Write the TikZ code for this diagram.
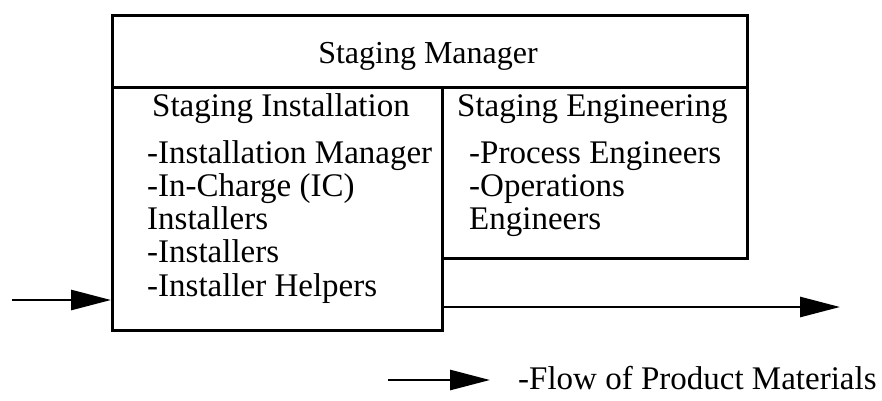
\documentclass[tikz,border=0pt]{standalone}
\usepackage{fontspec}
\setmainfont{Liberation Serif}
\usetikzlibrary{arrows.meta}
\tikzset{
  box/.style={draw, line width=2.8pt, anchor=north west, inner sep=0pt},
  label/.style={inner sep=0pt, font=\fontsize{33}{36}\selectfont},
  title/.style={inner sep=0pt, font=\fontsize{32}{36}\selectfont},
  flow/.style={line width=2.8pt, -{Triangle[length=40pt,width=20pt]}},
}
\begin{document}
\begin{tikzpicture}[x=1pt, y=-1pt]
\useasboundingbox (0,0) rectangle (882,400);

% organisation boxes
\node[box, minimum width=635pt, minimum height=72pt] (mgr) at (111,14) {};
\node[box, minimum width=330pt, minimum height=243pt] (inst) at (111,86) {};
\node[box, minimum width=305pt, minimum height=171pt] (eng) at (441,86) {};

% titles
\node[title, anchor=base] (tmgr) at (428,63) {Staging Manager};
\node[label, anchor=base west] (tinst) at (152,116) {Staging Installation};
\node[label, anchor=base west] (teng) at (457,116) {Staging Engineering};

% installation staff
\node[label, anchor=base west] (i1) at (147,163) {-Installation Manager};
\node[label, anchor=base west] (i2) at (147,196) {-In-Charge (IC)};
\node[label, anchor=base west] (i3) at (147,229) {Installers};
\node[label, anchor=base west] (i4) at (147,262) {-Installers};
\node[label, anchor=base west] (i5) at (147,296) {-Installer Helpers};

% engineering staff
\node[label, anchor=base west] (e1) at (469,163) {-Process Engineers};
\node[label, anchor=base west] (e2) at (469,196) {-Operations};
\node[label, anchor=base west] (e3) at (469,229) {Engineers};

% material flow through the staging area
\coordinate (inflow) at (12,300);
\coordinate (outflow) at (840,307);
\draw[flow] (inflow) -- (inflow -| inst.west);
\draw[flow] (outflow -| inst.east) -- (outflow);

% legend
\coordinate (legA) at (388,380);
\coordinate (legB) at (490,380);
\draw[flow] (legA) -- (legB);
\node[label, anchor=west] (legtext) at (518,378) {-Flow of Product Materials};
\end{tikzpicture}
\end{document}
